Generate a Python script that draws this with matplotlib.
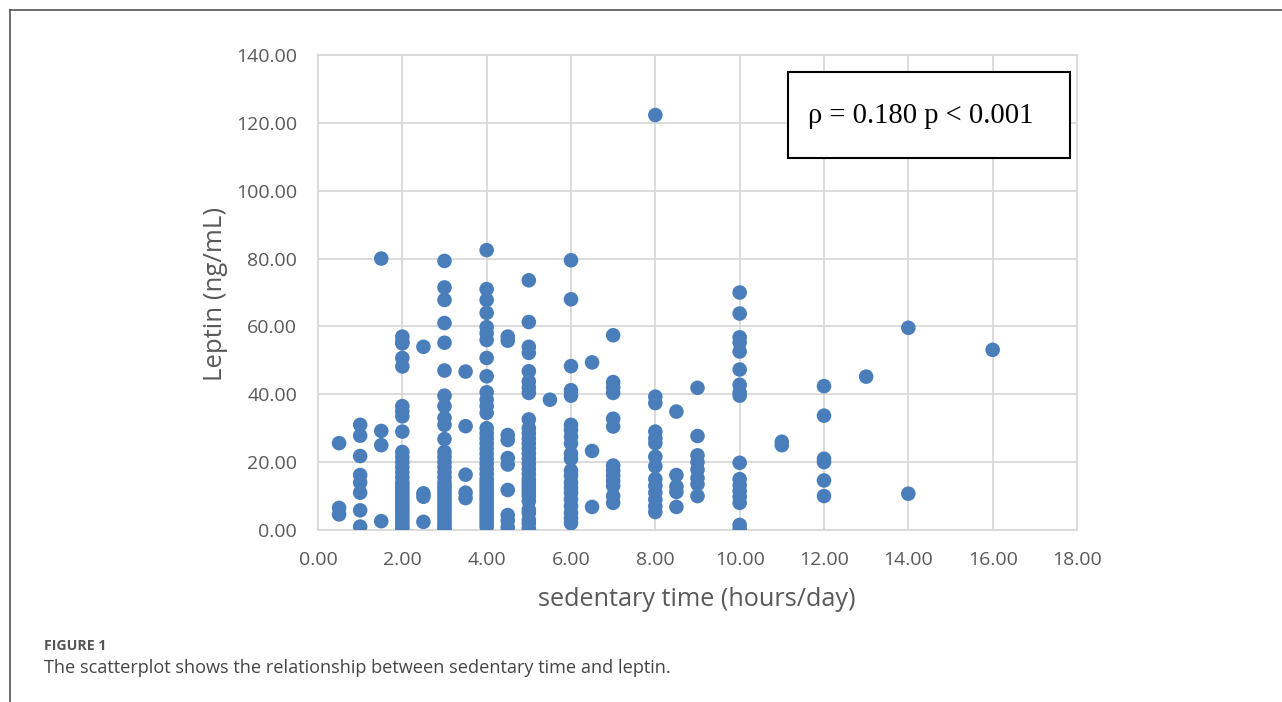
import matplotlib
matplotlib.use("Agg")
import matplotlib.pyplot as plt
from matplotlib.patches import Rectangle
from matplotlib.lines import Line2D

# ---- data: leptin (ng/mL) by sedentary time (hours/day) ----
leptin_0_5 = [25.6, 6.5, 4.6]
leptin_1_0 = [31.0, 27.8, 21.8, 16.2, 14.0, 11.0, 5.8, 1.0]
leptin_1_5 = [80.0, 29.2, 25.0, 2.6]
leptin_2_0 = [57.0, 55.5, 55.0, 50.7, 48.2, 36.5, 35.0, 33.5, 29.0, 23.0, 21.5,
              20.0, 18.5, 17.0, 15.5, 14.0, 13.0, 12.0, 11.0, 10.0, 9.0, 8.0,
              7.0, 6.0, 5.0, 4.0, 3.0, 2.0, 1.0, 0.3]
leptin_2_5 = [54.0, 10.8, 9.8, 2.4]
leptin_3_0 = [79.3, 71.5, 67.8, 61.0, 55.2, 47.0, 39.6, 36.5, 33.0, 31.0, 26.8,
              23.0, 21.5, 20.0, 18.5, 17.0, 15.5, 14.0, 13.0, 12.0, 11.0, 10.0,
              9.0, 8.0, 7.0, 6.0, 5.0, 4.0, 3.0, 2.0, 1.0, 0.3]
leptin_3_5 = [46.7, 30.6, 16.3, 11.0, 9.4]
leptin_4_0 = [82.5, 71.0, 67.8, 64.0, 59.8, 58.0, 56.0, 50.7, 45.3, 40.6, 38.4,
              36.5, 34.5, 30.0, 28.5, 27.0, 25.5, 24.0, 22.5, 21.0, 19.5, 18.0,
              16.5, 15.0, 14.0, 13.0, 12.0, 11.0, 10.0, 9.0, 8.0, 7.0, 6.0, 5.0,
              4.0, 3.0, 2.0, 1.0]
leptin_4_5 = [57.0, 55.8, 28.0, 26.5, 21.2, 19.3, 11.8, 4.4, 2.8, 0.8]
leptin_5_0 = [73.6, 61.3, 54.0, 52.2, 46.8, 43.8, 42.0, 40.4, 32.6, 30.0, 28.5,
              27.0, 25.5, 24.0, 22.5, 21.0, 19.5, 18.0, 16.5, 15.0, 14.0, 13.0,
              12.0, 11.0, 10.0, 8.5, 6.0, 5.0, 3.0, 2.0, 0.5]
leptin_5_5 = [38.4]
leptin_6_0 = [79.5, 68.0, 48.3, 41.2, 39.6, 31.0, 29.5, 27.5, 25.5, 22.5, 21.0,
              17.5, 16.0, 14.0, 12.5, 11.0, 9.0, 7.0, 5.0, 3.5, 2.0]
leptin_6_5 = [49.4, 23.3, 6.8]
leptin_7_0 = [57.4, 43.6, 42.0, 40.4, 32.8, 30.5, 19.0, 17.5, 16.0, 14.5, 13.0,
              10.0, 8.0]
leptin_8_0 = [122.3, 39.3, 37.4, 29.0, 27.0, 25.6, 21.6, 18.8, 15.0, 13.0, 11.0,
              9.0, 7.0, 5.3]
leptin_8_5 = [34.9, 16.2, 12.8, 11.2, 6.8]
leptin_9_0 = [41.9, 27.7, 22.0, 20.0, 17.8, 15.3, 13.5, 10.0]
leptin_10_0 = [70.0, 63.8, 56.8, 55.3, 52.6, 47.3, 42.8, 40.5, 39.6, 19.8, 15.0,
               13.2, 11.5, 9.8, 8.0, 1.5, 0.3]
leptin_11_0 = [26.0, 25.0]
leptin_12_0 = [42.4, 33.7, 21.0, 20.0, 14.6, 10.0]
leptin_13_0 = [45.2]
leptin_14_0 = [59.6, 10.7]
leptin_16_0 = [53.1]

hours = [0.5, 1.0, 1.5, 2.0, 2.5, 3.0, 3.5, 4.0, 4.5, 5.0, 5.5, 6.0, 6.5, 7.0,
         8.0, 8.5, 9.0, 10.0, 11.0, 12.0, 13.0, 14.0, 16.0]
leptin_groups = [leptin_0_5, leptin_1_0, leptin_1_5, leptin_2_0, leptin_2_5,
                 leptin_3_0, leptin_3_5, leptin_4_0, leptin_4_5, leptin_5_0,
                 leptin_5_5, leptin_6_0, leptin_6_5, leptin_7_0, leptin_8_0,
                 leptin_8_5, leptin_9_0, leptin_10_0, leptin_11_0, leptin_12_0,
                 leptin_13_0, leptin_14_0, leptin_16_0]

x_ticks = [0, 2, 4, 6, 8, 10, 12, 14, 16, 18]
y_ticks = [0, 20, 40, 60, 80, 100, 120, 140]

xs, ys = [], []
for h, grp in zip(hours, leptin_groups):
    xs.extend([h] * len(grp))
    ys.extend(grp)

plt.rcParams['font.family'] = ['Open Sans', 'DejaVu Sans']

fig = plt.figure(figsize=(12.82, 7.02), dpi=100)
ax = fig.add_axes([318 / 1282, 1 - 530 / 702, (1077 - 318) / 1282, (530 - 55) / 702])

ax.scatter(xs, ys, s=110, color='#4a7ebb', edgecolors='none', zorder=3)

ax.set_xlim(0, 18)
ax.set_ylim(0, 140)
ax.set_xticks(x_ticks)
ax.set_yticks(y_ticks)
ax.set_xticklabels([f"{v:.2f}" for v in x_ticks])
ax.set_yticklabels([f"{v:.2f}" for v in y_ticks])
ax.grid(True, color='#d9d9d9', linewidth=1.3, zorder=0)
ax.set_axisbelow(True)
for sp in ax.spines.values():
    sp.set_color('#d9d9d9')
    sp.set_linewidth(1.3)
ax.tick_params(axis='both', length=0, labelsize=14, colors='#595959')
ax.tick_params(axis='x', pad=15)
ax.tick_params(axis='y', pad=15)

ax.set_xlabel('sedentary time (hours/day)', fontsize=18.2, color='#595959')
ax.set_ylabel('Leptin (ng/mL)', fontsize=18.5, color='#595959')
ax.xaxis.set_label_coords(0.4993, -0.12)
ax.yaxis.set_label_coords(-0.118, 0.497)

# annotation box
ax.add_patch(Rectangle((0.619, 0.783), 0.372, 0.181, transform=ax.transAxes,
                       facecolor='white', edgecolor='black', linewidth=1.5,
                       zorder=5))
ax.text(0.6456, 0.872, 'ρ = 0.180 p < 0.001', transform=ax.transAxes,
        fontsize=20.6, family=['Liberation Serif', 'DejaVu Serif'],
        ha='left', va='center', color='black', zorder=6)

# outer frame lines (left and top)
fig.add_artist(Line2D([10 / 1282, 10 / 1282], [0, 1 - 10 / 702],
                      transform=fig.transFigure, color='#555555', linewidth=1.2))
fig.add_artist(Line2D([10 / 1282, 1], [1 - 10 / 702, 1 - 10 / 702],
                      transform=fig.transFigure, color='#555555', linewidth=1.2))

# caption
fig.text(44 / 1282, 1 - 646 / 702, 'FIGURE 1', fontsize=10.2, fontweight='bold',
         color='#555555', ha='left', va='center')
fig.text(44 / 1282, 1 - 668 / 702,
         'The scatterplot shows the relationship between sedentary time and leptin.',
         fontsize=13.1, color='#444444', ha='left', va='center')

fig.savefig('out.png', dpi=100)
